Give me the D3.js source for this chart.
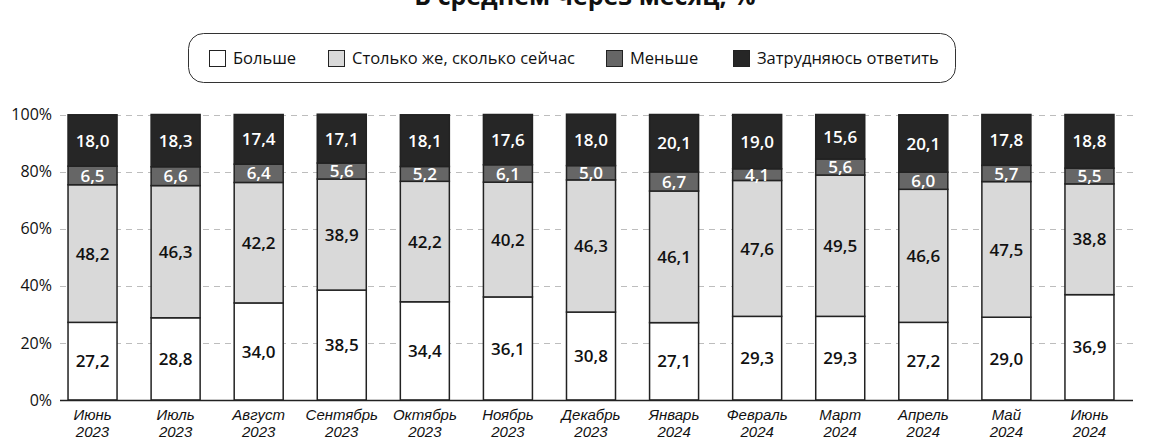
<!DOCTYPE html>
<html>
<head>
<meta charset="utf-8">
<script src="https://cdn.jsdelivr.net/npm/d3@7"></script>
<style>
  html, body { margin: 0; padding: 0; background: #fff; }
  svg { display: block; }
</style>
</head>
<body>
<svg id="chart" width="1155" height="439"></svg>
<script>
// Month labels (two lines: month / year)
const months = ["Июнь", "Июль", "Август", "Сентябрь", "Октябрь", "Ноябрь", "Декабрь",
                "Январь", "Февраль", "Март", "Апрель", "Май", "Июнь"];
const years = ["2023", "2023", "2023", "2023", "2023", "2023", "2023",
               "2024", "2024", "2024", "2024", "2024", "2024"];

// Answer shares, %
const more    = [27.2, 28.8, 34.0, 38.5, 34.4, 36.1, 30.8, 27.1, 29.3, 29.3, 27.2, 29.0, 36.9];
const same    = [48.2, 46.3, 42.2, 38.9, 42.2, 40.2, 46.3, 46.1, 47.6, 49.5, 46.6, 47.5, 38.8];
const less    = [6.5, 6.6, 6.4, 5.6, 5.2, 6.1, 5.0, 6.7, 4.1, 5.6, 6.0, 5.7, 5.5];
const unsure  = [18.0, 18.3, 17.4, 17.1, 18.1, 17.6, 18.0, 20.1, 19.0, 15.6, 20.1, 17.8, 18.8];

const seriesNames = ["Больше", "Столько же, сколько сейчас", "Меньше", "Затрудняюсь ответить"];
const yTicks = [0, 20, 40, 60, 80, 100];

const fills = ["#ffffff", "#d9d9d9", "#666666", "#262626"];
const labelColors = ["#111", "#111", "#fff", "#fff"];

const title = "В среднем через месяц, %";

const svg = d3.select("#chart");
const plot = { left: 60, right: 1133, top: 114.5, bottom: 400 };

const keys = ["more", "same", "less", "unsure"];
const rows = months.map((m, i) => ({
  idx: i, month: m, year: years[i],
  more: more[i], same: same[i], less: less[i], unsure: unsure[i]
}));

const x = d3.scaleBand()
  .domain(rows.map(r => r.idx))
  .range([51, 1131])
  .paddingInner(0.41)
  .paddingOuter(0.205);

const y = d3.scaleLinear().domain([0, 100]).range([plot.bottom, plot.top]);

const stack = d3.stack().keys(keys)(rows);

// Title (sits above the visible area, only its lower edge shows)
svg.append("text")
  .attr("x", 585).attr("y", 5)
  .attr("text-anchor", "middle")
  .attr("font-family", "'Open Sans', sans-serif")
  .attr("font-weight", 700)
  .attr("font-size", 25)
  .attr("fill", "#111")
  .text(title);

// Legend
const legend = svg.append("g");
legend.append("rect")
  .attr("x", 188.5).attr("y", 33.5)
  .attr("width", 767).attr("height", 49)
  .attr("rx", 15).attr("ry", 15)
  .attr("fill", "#fff").attr("stroke", "#333").attr("stroke-width", 1);

const legendX = [209, 328, 606, 733];
seriesNames.forEach((name, i) => {
  legend.append("rect")
    .attr("x", legendX[i] + 0.5).attr("y", 50.5)
    .attr("width", 16).attr("height", 16)
    .attr("fill", fills[i]).attr("stroke", "#222").attr("stroke-width", 1);
  legend.append("text")
    .attr("x", legendX[i] + 24).attr("y", 64)
    .attr("font-family", "'Open Sans', sans-serif")
    .attr("font-size", 16.5)
    .attr("fill", "#111")
    .text(name);
});

// Gridlines
svg.append("g")
  .selectAll("line")
  .data(yTicks.filter(t => t > 0))
  .join("line")
  .attr("x1", plot.left).attr("x2", plot.right)
  .attr("y1", d => Math.round(y(d)) + 0.5).attr("y2", d => Math.round(y(d)) + 0.5)
  .attr("stroke", "#bdbdbd").attr("stroke-width", 1)
  .attr("stroke-dasharray", "6,5");

// Y axis labels
const yAxis = d3.axisLeft(y).tickValues(yTicks).tickSize(0).tickPadding(8)
  .tickFormat(d => d + "%");
const yg = svg.append("g").attr("transform", `translate(${plot.left},0)`).call(yAxis);
yg.select(".domain").remove();
yg.selectAll("text")
  .attr("font-family", "'Open Sans', sans-serif")
  .attr("font-size", 16)
  .attr("fill", "#111");

// Bars
const layers = svg.append("g")
  .selectAll("g")
  .data(stack)
  .join("g")
  .attr("fill", (d, i) => fills[i]);

layers.selectAll("rect")
  .data(d => d)
  .join("rect")
  .attr("x", d => x(d.data.idx))
  .attr("y", d => y(d[1]))
  .attr("width", x.bandwidth())
  .attr("height", d => y(d[0]) - y(d[1]))
  .attr("stroke", "#222")
  .attr("stroke-width", 1.5);

// Value labels
stack.forEach((layer, li) => {
  svg.append("g")
    .selectAll("text")
    .data(layer)
    .join("text")
    .attr("x", d => x(d.data.idx) + x.bandwidth() / 2)
    .attr("y", d => (y(d[0]) + y(d[1])) / 2)
    .attr("dy", "0.36em")
    .attr("text-anchor", "middle")
    .attr("font-family", "'Open Sans', sans-serif")
    .attr("font-weight", 600)
    .attr("font-size", 17)
    .attr("fill", labelColors[li])
    .text(d => d3.format(".1f")(d.data[layer.key]).replace(".", ","));
});

// X axis baseline
svg.append("line")
  .attr("x1", plot.left).attr("x2", plot.right)
  .attr("y1", plot.bottom + 0.5).attr("y2", plot.bottom + 0.5)
  .attr("stroke", "#222").attr("stroke-width", 1.5);

// X axis labels: month and year as separate lines
const xg = svg.append("g");
rows.forEach(r => {
  const cx = x(r.idx) + x.bandwidth() / 2;
  [[r.month, 420], [r.year, 437]].forEach(([txt, yy]) => {
    xg.append("text")
      .attr("x", cx).attr("y", yy)
      .attr("text-anchor", "middle")
      .attr("font-family", "'Liberation Sans', Arial, sans-serif")
      .attr("font-style", "italic")
      .attr("font-size", 15)
      .attr("fill", "#111")
      .text(txt);
  });
});
</script>
</body>
</html>
